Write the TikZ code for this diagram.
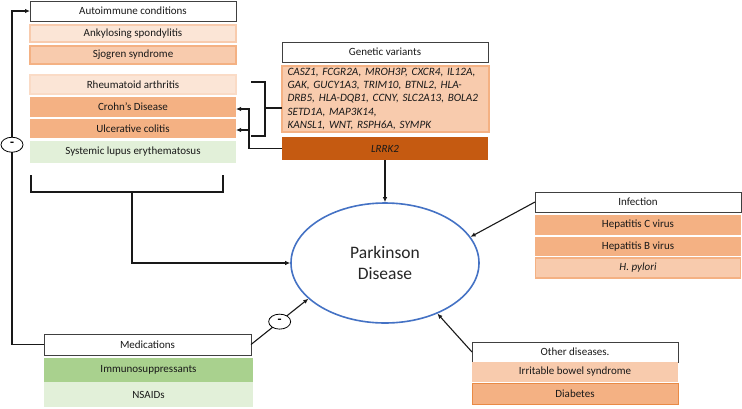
\documentclass[tikz,border=0pt]{standalone}
\usepackage{fontspec}
\setmainfont{Carlito}
\usetikzlibrary{shapes.geometric,arrows.meta}
\definecolor{hdrgray}{HTML}{404040}
\definecolor{peachL}{HTML}{FBE5D6}
\definecolor{peachM}{HTML}{F8CBAD}
\definecolor{peachD}{HTML}{F4B183}
\definecolor{rust}{HTML}{C55A11}
\definecolor{orangeB}{HTML}{E98A45}
\definecolor{greenL}{HTML}{E2F0D9}
\definecolor{greenM}{HTML}{A9D18E}
\definecolor{pdblue}{HTML}{4472C4}
\tikzset{
  box/.style={anchor=north west, inner sep=0pt, outer sep=0pt, align=center,
    font=\fontsize{11}{13}\selectfont, text=black!90},
  hdr/.style={box, draw=hdrgray, line width=1pt, fill=white},
  lightbox/.style={box, fill=peachL, draw=peachM, line width=1.2pt},
  midbox/.style={box, fill=peachM, draw=peachD, line width=1.2pt},
  darkbox/.style={box, fill=peachD},
  greenbox/.style={box, fill=greenL},
  minusnode/.style={ellipse, draw=black, fill=white, line width=0.8pt, minimum width=22pt,
    minimum height=15pt, inner sep=0pt, font=\fontsize{13}{13}\selectfont\bfseries},
  conn/.style={line width=1.1pt, draw=black!90},
  arr/.style={conn, -{Latex[length=5pt,width=4.5pt]}}
}
\begin{document}
\begin{tikzpicture}[x=1pt,y=-1pt]
\useasboundingbox (0,0) rectangle (742,408);
% Autoimmune
\node[hdr, minimum width=206pt, minimum height=20pt] (auto) at (30,1) {Autoimmune conditions};
\node[lightbox, minimum width=206pt, minimum height=17pt] (ank) at (30,25) {Ankylosing spondylitis};
\node[midbox, minimum width=206pt, minimum height=18pt] (sjo) at (30,46) {Sjogren syndrome};
\node[lightbox, minimum width=206pt, minimum height=19pt, draw=peachL!60!peachM] (rheu) at (30,75) {Rheumatoid arthritis};
\node[darkbox, minimum width=206pt, minimum height=20pt] (crohn) at (30,97) {Crohn’s Disease};
\node[darkbox, minimum width=206pt, minimum height=19pt] (ulc) at (30,119) {Ulcerative colitis};
\node[greenbox, minimum width=206pt, minimum height=22pt] (sle) at (30,141) {Systemic lupus erythematosus};
% Genetic
\node[hdr, minimum width=206pt, minimum height=20pt] (gen) at (282,42) {Genetic variants};
\node[midbox, minimum width=206pt, minimum height=66pt, text width=196pt, inner xsep=5.5pt, align=left,
  font=\fontsize{11.2}{13.2}\selectfont\itshape] (genlist) at (282,66)
  {CASZ1, FCGR2A, MROH3P, CXCR4, IL12A,\\GAK, GUCY1A3, TRIM10, BTNL2, HLA-\\DRB5, HLA-DQB1, CCNY, SLC2A13, BOLA2\\SETD1A, MAP3K14,\\KANSL1, WNT, RSPH6A, SYMPK};
\node[box, fill=rust, minimum width=206pt, minimum height=23pt, font=\fontsize{11}{13}\selectfont\itshape] (lrrk) at (282,137) {LRRK2};
% Infection
\node[hdr, minimum width=206pt, minimum height=20pt] (inf) at (535,192) {Infection};
\node[darkbox, minimum width=206pt, minimum height=20pt] (hepc) at (535,215) {Hepatitis C virus};
\node[darkbox, minimum width=206pt, minimum height=19pt] (hepb) at (535,237) {Hepatitis B virus};
\node[midbox, minimum width=205pt, minimum height=20pt, font=\fontsize{11}{13}\selectfont\itshape] (hpy) at (535.5,258) {H. pylori};
% Other diseases
\node[hdr, minimum width=206pt, minimum height=20pt] (oth) at (472,342) {Other diseases.};
\node[box, fill=peachM, minimum width=206pt, minimum height=20pt] (ibs) at (472,362) {Irritable bowel syndrome};
\node[darkbox, draw=orangeB, line width=1pt, minimum width=206pt, minimum height=21pt] (dia) at (472,383) {Diabetes};
% Medications
\node[hdr, minimum width=207pt, minimum height=21pt] (med) at (44,334) {Medications};
\node[box, fill=greenM, minimum width=209pt, minimum height=24pt] (imm) at (44,358) {Immunosuppressants};
\node[greenbox, minimum width=209pt, minimum height=25pt] (nsa) at (44,382) {NSAIDs};
% Parkinson
\node[ellipse, draw=pdblue, line width=1.6pt, minimum width=188pt, minimum height=120pt, inner sep=0pt,
  align=center, font=\fontsize{17.5}{21}\selectfont, text=black!85] (pd) at (385,263) {Parkinson\\Disease};
% Connectors
\coordinate (m1c) at (12,145);
\draw[arr] (med.west) -- (med.west -| m1c) -- node[minusnode, pos=0.599] (m1) {-} (auto.west -| m1c) -- (auto.west);
\draw[arr] (med.east) -- node[minusnode, pos=0.5] (m2) {-} (pd.205);
\coordinate (abl) at (31,175);
\coordinate (abr) at (223,175);
\coordinate (abm) at (132,192);
\draw[conn] (abl) |- (abm) -| (abr);
\draw[arr] (abm) |- (pd.west);
\coordinate (gbt) at (251,82);
\coordinate (gbb) at (251,136);
\coordinate (gbx) at (265,108);
\draw[conn] (gbt) -| (gbx) |- (gbb);
\draw[conn] (gbx) -- (gbx -| genlist.west);
\coordinate (lj) at (249,109);
\coordinate (lj2) at (249,130);
\draw[arr] (lrrk.west) -| (lj) -- (lj -| crohn.east);
\draw[arr] (lj2) -- (lj2 -| ulc.east);
\draw[arr] (lrrk.south) -- (pd.north);
\draw[arr] (inf.west) -- (pd.17);
\draw[arr] (oth.west) -- (pd.-44);
\end{tikzpicture}
\end{document}
